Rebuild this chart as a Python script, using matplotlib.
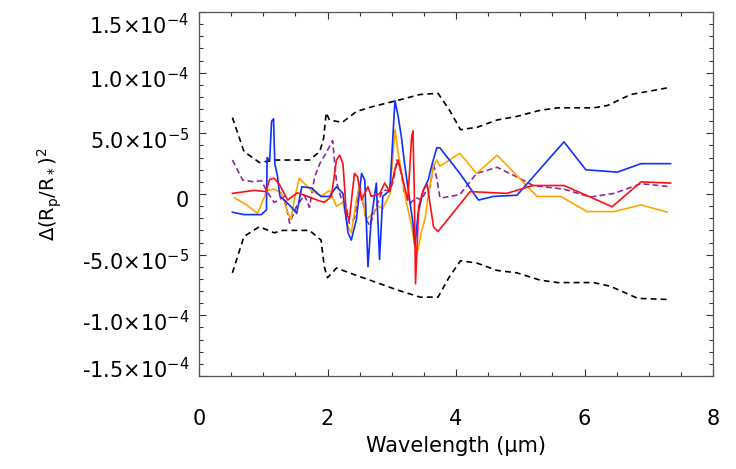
import numpy as np
import matplotlib
matplotlib.use("Agg")
import matplotlib.pyplot as plt
from matplotlib.ticker import MultipleLocator, FixedLocator, FixedFormatter
from matplotlib.transforms import ScaledTranslation

plt.rcParams['font.family'] = ['DejaVu Sans']
plt.rcParams['mathtext.fontset'] = 'dejavusans'

SCALE = 1e-5  # values below are in units of 1e-5

# black dashed envelope
env_up_x = [0.52, 0.70, 0.94, 1.20, 1.72, 1.88, 1.94, 1.98, 2.03, 2.23, 2.45, 2.70, 3.08, 3.44, 3.72,
            3.90, 4.07, 4.33, 4.64, 4.95, 5.31, 5.58, 6.14, 6.36, 6.72, 7.14, 7.34]
env_up_y = [6.3, 3.5, 2.6, 2.8, 2.8, 3.5, 4.6, 6.7, 6.1, 5.9, 6.8, 7.2, 7.7, 8.2, 8.3,
            6.9, 5.3, 5.5, 6.1, 6.4, 6.9, 7.1, 7.1, 7.3, 8.2, 8.6, 8.8]
env_lo_x = [0.52, 0.70, 0.94, 1.17, 1.30, 1.72, 1.90, 1.95, 2.00, 2.14, 2.34, 2.66, 3.08, 3.44, 3.72,
            3.90, 4.07, 4.33, 4.64, 4.95, 5.31, 5.58, 6.14, 6.40, 6.83, 7.34]
env_lo_y = [-6.5, -3.5, -2.7, -3.2, -3.0, -3.0, -3.8, -6.0, -6.9, -6.1, -6.5, -7.1, -7.9, -8.5, -8.5,
            -6.8, -5.5, -5.7, -6.3, -6.5, -7.1, -7.3, -7.3, -7.6, -8.6, -8.7]

blue_x = [0.52, 0.70, 0.97, 1.05, 1.06, 1.10, 1.13, 1.16, 1.18, 1.22, 1.26, 1.33, 1.44, 1.52, 1.60,
          1.75, 1.90, 2.03, 2.14, 2.24, 2.32, 2.37, 2.45, 2.53, 2.58, 2.63, 2.68, 2.76, 2.81, 2.86,
          2.97, 3.05, 3.10, 3.15, 3.20, 3.25, 3.33, 3.36, 3.41, 3.49, 3.57, 3.62, 3.70, 3.75, 4.06,
          4.35, 4.58, 4.95, 5.68, 6.02, 6.51, 6.88, 7.34]
blue_y = [-1.5, -1.7, -1.7, -1.3, 3.0, 2.8, 6.0, 6.2, 2.5, 1.5, -0.2, -0.5, -1.1, -1.6, 0.6,
          0.5, -0.2, -0.2, 0.6, 0.05, -3.2, -3.8, -2.1, 1.7, 1.15, -6.0, -2.1, 0.9, -5.4, -0.2,
          0.3, 7.7, 6.4, 4.7, 2.5, 0.6, -2.4, -4.3, -1.6, 0.3, 1.2, 2.3, 3.8, 3.8, 1.7,
          -0.5, -0.2, -0.1, 4.3, 2.0, 1.8, 2.5, 2.5]

red_x = [0.52, 0.86, 1.04, 1.10, 1.17, 1.25, 1.38, 1.53, 1.69, 1.84, 1.95, 2.06, 2.14, 2.19, 2.24,
         2.27, 2.29, 2.34, 2.39, 2.42, 2.47, 2.53, 2.63, 2.68, 2.81, 2.89, 2.97, 3.05, 3.10, 3.20,
         3.25, 3.31, 3.33, 3.35, 3.37, 3.42, 3.49, 3.55, 3.65, 3.72, 4.22, 4.79, 5.20, 5.68, 6.09,
         6.43, 6.88, 7.34]
red_y = [0.05, 0.3, 0.2, 1.2, 1.3, 0.8, -0.5, 0.1, -0.2, -0.5, -0.7, -0.2, 2.8, 3.2, 2.5,
         0.3, -1.6, -2.1, 0.3, 1.7, 1.4, -0.5, 0.6, -0.2, 0.0, 0.9, 0.2, 2.0, 2.8, 0.6,
         -0.5, 4.7, 5.2, 0.5, -7.4, -1.0, 0.3, 0.8, -2.7, -3.1, 0.2, 0.05, 0.7, 0.7, -0.25,
         -1.05, 1.0, 0.9]

orange_x = [0.55, 0.74, 0.91, 1.06, 1.17, 1.28, 1.38, 1.43, 1.49, 1.56, 1.65, 1.75, 1.90, 2.03, 2.14,
            2.24, 2.32, 2.37, 2.45, 2.50, 2.55, 2.60, 2.71, 2.79, 2.86, 2.97, 3.05, 3.10, 3.15, 3.22,
            3.30, 3.36, 3.41, 3.46, 3.52, 3.58, 3.65, 3.70, 3.75, 4.06, 4.32, 4.64, 5.26, 5.63, 6.04,
            6.46, 6.88, 7.29]
orange_y = [-0.3, -0.9, -1.6, 0.3, 0.4, 0.1, -1.5, -2.1, -0.3, 1.3, 0.8, 0.3, -0.2, 0.3, -1.0,
            -0.7, -2.7, -3.2, -0.5, 0.6, -0.5, -2.1, -1.6, -1.0, -1.2, 0.0, 5.3, 3.4, 1.8, -0.5,
            -2.4, -4.3, -4.6, -3.2, -2.0, 0.3, 2.3, 2.8, 2.3, 3.35, 1.7, 3.2, -0.2, -0.2, -1.45,
            -1.45, -0.9, -1.5]

purple_x = [0.52, 0.68, 0.86, 0.97, 1.06, 1.17, 1.33, 1.41, 1.52, 1.64, 1.72, 1.80, 1.88, 1.98, 2.08,
            2.14, 2.22, 2.29, 2.34, 2.42, 2.50, 2.60, 2.66, 2.76, 2.86, 2.97, 3.02, 3.08, 3.14, 3.20,
            3.28, 3.38, 3.46, 3.54, 3.60, 3.65, 3.70, 3.75, 3.80, 4.06, 4.32, 4.64, 4.95, 5.20, 5.68,
            6.09, 6.46, 6.88, 7.34]
purple_y = [2.8, 1.15, 1.0, 1.1, 0.2, -0.7, -0.2, -2.4, -1.0, -0.1, -1.1, 1.4, 2.5, 3.4, 4.4,
            1.0, -0.5, -1.0, -2.4, -2.0, 0.8, -2.1, -2.6, -1.0, 0.3, 0.3, 1.0, 2.8, 1.9, 0.0,
            -0.8, -0.3, -0.5, 0.3, 0.6, 2.5, 1.3, -0.3, -0.3, -0.05, 1.7, 2.2, 1.4, 0.7, 0.4,
            -0.25, 0.05, 0.85, 0.6]

ytick_vals = [-1.5e-4, -1.0e-4, -5.0e-5, 0, 5.0e-5, 1.0e-4, 1.5e-4]
ytick_labels = [r'-1.5$\times$10$^{-4}$', r'-1.0$\times$10$^{-4}$', r'-5.0$\times$10$^{-5}$', '0',
                r'5.0$\times$10$^{-5}$', r'1.0$\times$10$^{-4}$', r'1.5$\times$10$^{-4}$']
xtick_vals = [0, 2, 4, 6, 8]
xtick_labels = ['0', '2', '4', '6', '8']

fig = plt.figure(figsize=(7.36, 4.69), dpi=100)
ax = fig.add_axes([199/736, 93/469, 514/736, 364/469])

def s(v):
    return np.asarray(v) * SCALE

ax.plot(env_up_x, s(env_up_y), color='black', lw=1.2, dashes=(3.5, 2.5))
ax.plot(env_lo_x, s(env_lo_y), color='black', lw=1.2, dashes=(3.5, 2.5))
ax.plot(purple_x, s(purple_y), color='#8a2a9e', lw=1.2, dashes=(3.5, 2.0))
ax.plot(orange_x, s(orange_y), color='#ffa500', lw=1.2)
ax.plot(blue_x, s(blue_y), color='#1030ff', lw=1.2)
ax.plot(red_x, s(red_y), color='#ff1010', lw=1.2)

ax.set_xlim(0, 8)
ax.set_ylim(-1.5e-4, 1.5e-4)
ax.xaxis.set_major_locator(FixedLocator(xtick_vals))
ax.xaxis.set_major_formatter(FixedFormatter(xtick_labels))
ax.xaxis.set_minor_locator(MultipleLocator(0.5))
ax.yaxis.set_major_locator(FixedLocator(ytick_vals))
ax.yaxis.set_major_formatter(FixedFormatter(ytick_labels))
ax.yaxis.set_minor_locator(MultipleLocator(1e-5))

ax.tick_params(which='both', direction='in', top=True, right=True, color='#333333', width=0.8)
ax.tick_params(which='major', length=5)
ax.tick_params(which='minor', length=3)
ax.tick_params(axis='y', which='major', labelsize=15, pad=7)
ax.tick_params(axis='x', which='major', labelsize=15, pad=24)
for sp in ax.spines.values():
    sp.set_color('#555555')
    sp.set_linewidth(0.9)

# IDL-like vertical placement of y tick labels
offsets_px = [8, -5, -5, -5, -5, -5, -12]
for lab, off in zip(ax.get_yticklabels(), offsets_px):
    lab.set_transform(lab.get_transform() + ScaledTranslation(0, off / 100, fig.dpi_scale_trans))

ax.set_xlabel('Wavelength (µm)', fontsize=15)
ax.xaxis.set_label_coords(0.5, -0.165)
ax.set_ylabel(r'$\Delta(\mathrm{R_p/R_*})^2$', fontsize=14)
ax.yaxis.set_label_coords(-0.262, 0.5)

fig.savefig('out.png', dpi=100)
